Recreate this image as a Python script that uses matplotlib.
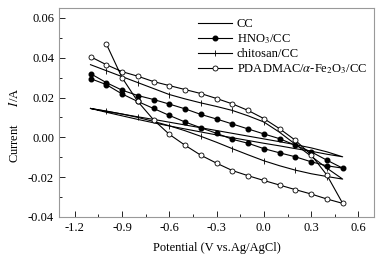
import matplotlib
matplotlib.use('Agg')
import matplotlib.pyplot as plt
import numpy as np
from matplotlib.ticker import MultipleLocator

plt.rcParams['font.family'] = ['Liberation Serif', 'DejaVu Serif']
plt.rcParams['mathtext.fontset'] = 'stix'
plt.rcParams['font.size'] = 9

# potential grid, forward scan -1.1 -> 0.5 then reverse 0.4 -> -1.1
v_fwd = [-1.1, -1.0, -0.9, -0.8, -0.7, -0.6, -0.5, -0.4, -0.3, -0.2, -0.1, 0.0, 0.1, 0.2, 0.3, 0.4, 0.5]
v_rev = [0.4, 0.3, 0.2, 0.1, 0.0, -0.1, -0.2, -0.3, -0.4, -0.5, -0.6, -0.7, -0.8, -0.9, -1.0, -1.1]

cc_fwd = [0.0145, 0.0131, 0.0117, 0.0103, 0.0090, 0.0076, 0.0062, 0.0048, 0.0034, 0.0020, 0.0006,
          -0.0008, -0.0022, -0.0037, -0.0053, -0.0073, -0.0098]
cc_rev = [-0.0085, -0.0070, -0.0057, -0.0043, -0.0030, -0.0016, -0.0002, 0.0012, 0.0027, 0.0042,
          0.0057, 0.0073, 0.0090, 0.0108, 0.0126, 0.0145]

hno3_fwd = [0.0320, 0.0275, 0.0237, 0.0210, 0.0190, 0.0167, 0.0143, 0.0115, 0.0092, 0.0067, 0.0042,
            0.0017, -0.0007, -0.0040, -0.0073, -0.0115, -0.0155]
hno3_rev = [-0.0143, -0.0123, -0.0098, -0.0078, -0.0057, -0.0030, -0.0010, 0.0020, 0.0048, 0.0077,
            0.0110, 0.0145, 0.0180, 0.0218, 0.0265, 0.0295]

chit_fwd = [0.0365, 0.0335, 0.0305, 0.0275, 0.0245, 0.0215, 0.0193, 0.0173, 0.0155, 0.0135, 0.0108,
            0.0077, 0.0025, -0.0035, -0.0095, -0.0155, -0.0210]
chit_rev = [-0.0197, -0.0183, -0.0165, -0.0143, -0.0118, -0.0088, -0.0057, -0.0025, 0.0005, 0.0033,
            0.0058, 0.0080, 0.0100, 0.0117, 0.0132, 0.0145]

# PDADMAC reverse scan stops at -1.0
v_rev_pd = v_rev[:-1]
pd_fwd = [0.0405, 0.0365, 0.0330, 0.0307, 0.0280, 0.0260, 0.0240, 0.0220, 0.0195, 0.0168, 0.0135,
          0.0094, 0.0043, -0.0015, -0.0088, -0.0190, -0.0332]
pd_rev = [-0.0310, -0.0285, -0.0263, -0.0240, -0.0217, -0.0193, -0.0167, -0.0130, -0.0090, -0.0040,
          0.0015, 0.0088, 0.0180, 0.0300, 0.0470]

labels = ['CC', 'HNO$_3$/CC', 'chitosan/CC', r'PDADMAC/$\alpha$-Fe$_2$O$_3$/CC']

fig = plt.figure(figsize=(3.83, 2.57), dpi=100)
ax = fig.add_axes([0.154, 0.156, 0.823, 0.813])

lw = 0.8
ax.plot(v_fwd + v_rev, cc_fwd + cc_rev, color='black', lw=lw, label=labels[0])
ax.plot(v_fwd + v_rev, hno3_fwd + hno3_rev, color='black', lw=lw, marker='o', ms=3.3,
        mfc='black', mec='black', label=labels[1])
ax.plot(v_fwd + v_rev, chit_fwd + chit_rev, color='black', lw=lw, marker='|', ms=4,
        mew=0.6, markevery=slice(1, None, 2), label=labels[2])
ax.plot(v_fwd + v_rev_pd, pd_fwd + pd_rev, color='black', lw=lw, marker='o', ms=3.6,
        mfc='white', mec='black', mew=0.6, label=labels[3])

ax.set_xlim(-1.3, 0.7)
ax.set_ylim(-0.04, 0.065)
ax.xaxis.set_major_locator(MultipleLocator(0.3))
ax.xaxis.set_minor_locator(MultipleLocator(0.15))
ax.yaxis.set_major_locator(MultipleLocator(0.02))
ax.yaxis.set_minor_locator(MultipleLocator(0.01))
ax.xaxis.set_major_formatter(plt.FuncFormatter(lambda x, p: '%.1f' % x if abs(x) > 1e-9 else '0.0'))
ax.yaxis.set_major_formatter(plt.FuncFormatter(lambda y, p: '%.2f' % y if abs(y) > 1e-9 else '0.00'))
ax.tick_params(which='both', direction='in', top=False, right=False, colors='black',
               width=0.6, labelsize=9)
ax.tick_params(which='major', length=4)
ax.tick_params(which='minor', length=2.5)
for s in ax.spines.values():
    s.set_color('#999999')
    s.set_linewidth(0.8)

ax.set_xlabel('Potential (V vs.Ag/AgCl)', fontsize=9, labelpad=6)
ax.set_ylabel('Current      $I$/A', fontsize=9)
ax.yaxis.set_label_coords(-0.12, 0.44)

ax.legend(loc='upper left', bbox_to_anchor=(0.421, 0.982), frameon=False, fontsize=9,
          handlelength=2.7, handletextpad=0.4, labelspacing=0.18, borderpad=0, numpoints=1)

fig.savefig('out.png', dpi=100)
